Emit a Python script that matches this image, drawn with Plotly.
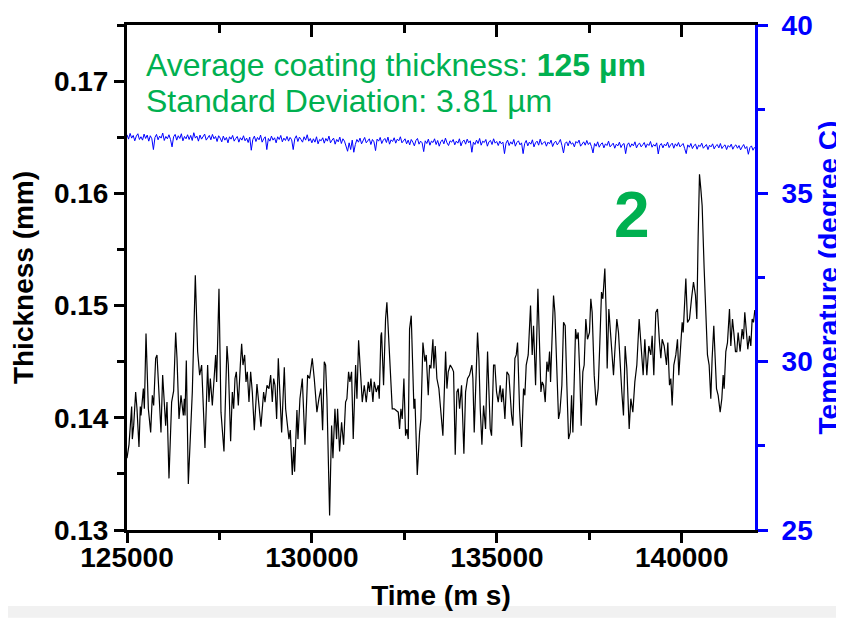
import plotly.graph_objects as go

# Thickness trace (time in ms, thickness in mm)
time_ms = [
    125000, 125054, 125126, 125144, 125180, 125234, 125270, 125324, 125360, 125378, 125442, 125469, 125514,
    125577, 125640, 125685, 125721, 125775, 125811, 125847, 125919, 125964, 126009, 126045, 126081, 126135,
    126207, 126261, 126316, 126352, 126406, 126460, 126523, 126550, 126568, 126604, 126658, 126712, 126766,
    126847, 126910, 126964, 127018, 127108, 127180, 127216, 127253, 127307, 127397,
    127424, 127487, 127541, 127622, 127703, 127739, 127802, 127848, 127884, 127920, 127956, 128010, 128064,
    128100, 128136, 128181, 128217, 128253, 128298, 128343, 128388, 128442, 128514, 128568, 128622, 128694,
    128731, 128785, 128839, 128884, 128929, 128965, 129001, 129046, 129091, 129181, 129253, 129289, 129343,
    129379, 129415, 129469, 129505, 129532, 129595, 129622, 129676, 129740, 129812,
    129883, 129937, 130009, 130063, 130135, 130189, 130243, 130289, 130334, 130370, 130406, 130478, 130532,
    130568, 130622, 130667, 130694, 130748, 130802, 130856, 130910, 130946, 130991, 131027, 131072, 131117,
    131181, 131217, 131262, 131307, 131361, 131415, 131469, 131523, 131559, 131595, 131649, 131685, 131739,
    131793, 131820, 131865, 131883, 131937, 131991, 132027, 132082, 132136, 132172, 132226,
    132334, 132370, 132406, 132442, 132487, 132532, 132568, 132604, 132640, 132685, 132721, 132758, 132785,
    132848, 132911, 132947, 133001, 133055, 133091, 133145, 133181, 133217, 133271, 133298, 133334, 133379,
    133433, 133487, 133541, 133614, 133650, 133686, 133740, 133794, 133830, 133875, 133920, 133956, 133992,
    134046, 134109, 134154, 134208, 134262, 134325, 134352, 134388, 134478, 134515, 134551, 134596, 134641,
    134695,
    134749, 134821, 134857, 134911, 134947, 134992, 135037, 135091, 135128, 135164, 135218, 135272, 135326,
    135362, 135398, 135434, 135488, 135524, 135560, 135614, 135668, 135722, 135758, 135794, 135848, 135911,
    135956, 135992, 136047, 136110, 136155, 136191, 136227, 136263, 136308, 136353, 136389, 136425, 136452,
    136497, 136533, 136569, 136614, 136668, 136704, 136758, 136803, 136848, 136893, 136939, 136984, 137020,
    137056, 137092, 137128,
    137163, 137199, 137244, 137280, 137325, 137361, 137406, 137451, 137505, 137541, 137577, 137632, 137686,
    137740, 137785, 137830, 137866, 137920, 137956, 137983, 138028, 138064, 138118, 138154, 138190, 138244,
    138289, 138343, 138379, 138424, 138469, 138515, 138578, 138623, 138677, 138731, 138785, 138848, 138911,
    138956, 139001, 139055, 139109, 139163, 139199, 139244, 139298, 139343, 139398, 139434, 139470, 139524,
    139587, 139623, 139668, 139704, 139740, 139785, 139839, 139884, 139920, 139965, 140011, 140038, 140074,
    140110, 140155, 140209, 140263, 140317, 140371, 140407, 140443, 140479, 140515, 140551, 140605, 140659,
    140695, 140740, 140785, 140821, 140866, 140903, 140939, 140984, 141038, 141083, 141119, 141146, 141191,
    141236, 141290, 141326, 141371, 141407, 141452, 141488, 141524, 141578, 141632, 141668, 141704, 141749,
    141785, 141830, 141867, 141903, 141939, 141975,
]

thickness_mm = [
    0.1364, 0.1376, 0.1410, 0.1381, 0.1393, 0.1423, 0.1408, 0.1374, 0.1410, 0.1402, 0.1426, 0.1408, 0.1475,
    0.1408, 0.1387, 0.1420, 0.1411, 0.1453, 0.1456, 0.1435, 0.1387, 0.1438, 0.1414, 0.1393, 0.1414, 0.1346,
    0.1414, 0.1424, 0.1476, 0.1453, 0.1399, 0.1420, 0.1402, 0.1417, 0.1402, 0.1451, 0.1341, 0.1381, 0.1423,
    0.1527, 0.1459, 0.1438, 0.1447, 0.1373, 0.1447, 0.1414, 0.1435, 0.1411, 0.1456,
    0.1432, 0.1515, 0.1405, 0.1370, 0.1464, 0.1447, 0.1379, 0.1423, 0.1408, 0.1435, 0.1441, 0.1411, 0.1447,
    0.1466, 0.1447, 0.1456, 0.1432, 0.1441, 0.1414, 0.1441, 0.1423, 0.1389, 0.1430, 0.1414, 0.1392, 0.1423,
    0.1414, 0.1429, 0.1426, 0.1438, 0.1414, 0.1435, 0.1429, 0.1399, 0.1453, 0.1387, 0.1445, 0.1408, 0.1390,
    0.1381, 0.1389, 0.1349, 0.1374, 0.1352, 0.1407, 0.1381, 0.1417, 0.1435, 0.1376,
    0.1438, 0.1435, 0.1453, 0.1435, 0.1405, 0.1417, 0.1426, 0.1389, 0.1450, 0.1447, 0.1417, 0.1313, 0.1393,
    0.1364, 0.1408, 0.1381, 0.1408, 0.1370, 0.1396, 0.1376, 0.1414, 0.1417, 0.1441, 0.1432, 0.1441, 0.1381,
    0.1447, 0.1417, 0.1469, 0.1444, 0.1414, 0.1429, 0.1414, 0.1432, 0.1423, 0.1435, 0.1414, 0.1432, 0.1423,
    0.1429, 0.1417, 0.1473, 0.1476, 0.1429, 0.1488, 0.1503, 0.1464, 0.1435, 0.1408, 0.1408,
    0.1405, 0.1390, 0.1408, 0.1399, 0.1435, 0.1384, 0.1390, 0.1381, 0.1479, 0.1491, 0.1456, 0.1408, 0.1417,
    0.1349, 0.1387, 0.1399, 0.1467, 0.1450, 0.1456, 0.1420, 0.1447, 0.1444, 0.1470, 0.1444, 0.1464, 0.1435,
    0.1426, 0.1405, 0.1384, 0.1459, 0.1426, 0.1441, 0.1447, 0.1444, 0.1441, 0.1367, 0.1423, 0.1426, 0.1408,
    0.1429, 0.1368, 0.1423, 0.1435, 0.1438, 0.1447, 0.1435, 0.1387, 0.1476, 0.1453, 0.1408, 0.1376, 0.1411,
    0.1390,
    0.1459, 0.1390, 0.1384, 0.1447, 0.1447, 0.1423, 0.1414, 0.1429, 0.1414, 0.1426, 0.1399, 0.1441, 0.1438,
    0.1414, 0.1402, 0.1393, 0.1453, 0.1456, 0.1467, 0.1408, 0.1374, 0.1426, 0.1420, 0.1447, 0.1456, 0.1500,
    0.1456, 0.1482, 0.1429, 0.1515, 0.1470, 0.1423, 0.1432, 0.1429, 0.1414, 0.1450, 0.1441, 0.1459, 0.1432,
    0.1485, 0.1509, 0.1494, 0.1447, 0.1399, 0.1405, 0.1429, 0.1485, 0.1482, 0.1429, 0.1381, 0.1387, 0.1420,
    0.1387, 0.1447, 0.1479,
    0.1470, 0.1476, 0.1438, 0.1393, 0.1441, 0.1447, 0.1488, 0.1470, 0.1476, 0.1506, 0.1494, 0.1438, 0.1411,
    0.1426, 0.1467, 0.1512, 0.1506, 0.1533, 0.1494, 0.1444, 0.1497, 0.1482, 0.1453, 0.1438, 0.1459, 0.1488,
    0.1476, 0.1438, 0.1423, 0.1402, 0.1464, 0.1444, 0.1390, 0.1417, 0.1405, 0.1432, 0.1447, 0.1488, 0.1453,
    0.1438, 0.1470, 0.1438, 0.1464, 0.1456, 0.1473, 0.1438, 0.1494, 0.1497, 0.1467, 0.1453, 0.1470, 0.1464,
    0.1447, 0.1467, 0.1429, 0.1435, 0.1411, 0.1447, 0.1456, 0.1470, 0.1438, 0.1464, 0.1485, 0.1476, 0.1509,
    0.1524, 0.1485, 0.1488, 0.1506, 0.1521, 0.1509, 0.1488, 0.1562, 0.1617, 0.1604, 0.1589, 0.1533, 0.1494,
    0.1456, 0.1447, 0.1417, 0.1453, 0.1482, 0.1453, 0.1426, 0.1420, 0.1405, 0.1417, 0.1438, 0.1426, 0.1459,
    0.1467, 0.1497, 0.1464, 0.1488, 0.1476, 0.1459, 0.1459, 0.1476, 0.1459, 0.1479, 0.1470, 0.1494, 0.1476,
    0.1461, 0.1473, 0.1464, 0.1488, 0.1485, 0.1496,
]

# Temperature trace (degree C), sampled every 42 ms from 125000 ms
temp_start = 125000
temp_step = 42
temperature = [
    36.74, 36.61, 36.78, 36.64, 36.72, 36.56, 36.70, 36.77, 36.60, 36.68, 36.58, 36.76, 36.63, 36.73, 36.55,
    36.71, 36.62, 36.30, 36.66, 36.75, 36.59, 36.70, 36.64, 36.79, 36.57, 36.69, 36.62, 36.74, 36.60, 36.38,
    36.68, 36.75, 36.58, 36.71, 36.63, 36.77, 36.56, 36.69, 36.62, 36.74, 36.60, 36.72, 36.57, 36.80, 36.64,
    36.70, 36.55, 36.73, 36.61, 36.68, 36.76, 36.58, 36.66, 36.72, 36.59, 36.75, 36.62, 36.69, 36.54, 36.71,
    36.64, 36.53, 36.70, 36.58, 36.66, 36.50, 36.68, 36.61, 36.72, 36.55, 36.63, 36.69, 36.52, 36.65, 36.58,
    36.71, 36.56, 36.64, 36.51, 36.67, 36.28, 36.60, 36.70, 36.54, 36.66, 36.59, 36.73, 36.52, 36.62, 36.68,
    36.30, 36.63, 36.55, 36.70, 36.58, 36.65, 36.50, 36.68, 36.60, 36.72, 36.53, 36.64, 36.57, 36.69, 36.55,
    36.66, 36.59, 36.30, 36.62, 36.71, 36.54, 36.67, 36.60, 36.52, 36.68, 36.58, 36.74, 36.55, 36.63, 36.50,
    36.62, 36.52, 36.68, 36.47, 36.60, 36.56, 36.65, 36.49, 36.63, 36.55, 36.70, 36.50, 36.58, 36.64, 36.46,
    36.60, 36.53, 36.67, 36.48, 36.62, 36.55, 36.40, 36.25, 36.50, 36.30, 36.58, 36.22, 36.45, 36.60, 36.52,
    36.64, 36.47, 36.59, 36.66, 36.50, 36.57, 36.62, 36.45, 36.60, 36.53, 36.27, 36.61, 36.55, 36.66, 36.48,
    36.58, 36.63, 36.51, 36.67, 36.46, 36.59, 36.54, 36.65, 36.49, 36.61, 36.56, 36.68, 36.50, 36.57, 36.62,
    36.47, 36.58, 36.44, 36.60, 36.52, 36.41, 36.57, 36.63, 36.46, 36.55, 36.50, 36.24, 36.56, 36.48, 36.61,
    36.43, 36.55, 36.51, 36.62, 36.45, 36.57, 36.40, 36.53, 36.59, 36.47, 36.64, 36.50, 36.42, 36.56, 36.52,
    36.60, 36.44, 36.55, 36.49, 36.62, 36.41, 36.54, 36.58, 36.46, 36.61, 36.50, 36.56, 36.22, 36.52, 36.45,
    36.58, 36.48, 36.63, 36.43, 36.55, 36.51, 36.60, 36.40, 36.53, 36.57, 36.45, 36.62, 36.49, 36.54, 36.42,
    36.55, 36.47, 36.52, 36.18, 36.49, 36.58, 36.42, 36.53, 36.46, 36.60, 36.40, 36.51, 36.56, 36.44, 36.50,
    36.18, 36.48, 36.57, 36.41, 36.52, 36.46, 36.59, 36.38, 36.50, 36.55, 36.43, 36.61, 36.45, 36.49, 36.54,
    36.40, 36.52, 36.47, 36.58, 36.39, 36.50, 36.55, 36.44, 36.51, 36.60, 36.42, 36.20, 36.48, 36.53, 36.41,
    36.56, 36.46, 36.50, 36.38, 36.54, 36.49, 36.58, 36.40, 36.47, 36.53, 36.43, 36.57, 36.45, 36.51, 36.39,
    36.20, 36.48, 36.40, 36.53, 36.37, 36.46, 36.50, 36.35, 36.47, 36.42, 36.55, 36.38, 36.44, 36.49, 36.34,
    36.46, 36.41, 36.52, 36.36, 36.45, 36.48, 36.18, 36.44, 36.50, 36.37, 36.47, 36.41, 36.53, 36.35, 36.45,
    36.49, 36.38, 36.44, 36.51, 36.36, 36.47, 36.42, 36.54, 36.37, 36.45, 36.40, 36.50, 36.17, 36.43, 36.48,
    36.35, 36.46, 36.41, 36.52, 36.36, 36.44, 36.49, 36.34, 36.47, 36.40, 36.51, 36.38, 36.43, 36.48, 36.33,
    36.18, 36.44, 36.37, 36.48, 36.33, 36.42, 36.46, 36.31, 36.43, 36.39, 36.49, 36.34, 36.41, 36.45, 36.30,
    36.43, 36.38, 36.47, 36.32, 36.41, 36.45, 36.35, 36.48, 36.33, 36.40, 36.44, 36.30, 36.42, 36.37, 36.46,
    36.31, 36.40, 36.44, 36.34, 36.42, 36.29, 36.38, 36.45, 36.33, 36.39, 36.16, 36.36, 36.41, 36.28, 36.37,
]
temp_time = [temp_start + temp_step * i for i in range(len(temperature))]

assert len(time_ms) == len(thickness_mm), (len(time_ms), len(thickness_mm))

x_range = [125000, 141980]
green = "#00b050"
blue = "#0000ff"
font_family = "Liberation Sans, Arial, sans-serif"
tick_font = dict(family=font_family, size=28, color="black", weight="bold")
title_font = dict(family=font_family, size=28, color="black", weight="bold")

fig = go.Figure()

fig.add_trace(
    go.Scatter(
        x=time_ms,
        y=thickness_mm,
        mode="lines",
        line=dict(color="black", width=1.2),
        showlegend=False,
    )
)
fig.add_trace(
    go.Scatter(
        x=temp_time,
        y=temperature,
        mode="lines",
        line=dict(color=blue, width=1),
        xaxis="x2",
        yaxis="y2",
        showlegend=False,
    )
)

# the page body adds an 8 px margin, so the figure is sized to fit inside the window
fig.update_layout(
    width=836,
    height=610,
    margin=dict(l=119, r=89, t=17, b=88),
    paper_bgcolor="white",
    plot_bgcolor="white",
    xaxis=dict(
        range=x_range,
        tickvals=[125000, 130000, 135000, 140000],
        ticktext=["125000", "130000", "135000", "140000"],
        ticks="outside",
        ticklen=10,
        tickwidth=2.5,
        tickcolor="black",
        minor=dict(dtick=2500, tick0=125000, ticks="outside", ticklen=7, tickwidth=2.5, tickcolor="black"),
        showline=True,
        linewidth=3,
        linecolor="black",
        showgrid=False,
        zeroline=False,
        automargin=False,
        ticklabelstandoff=-10,
        tickfont=tick_font,
        title=dict(text="Time (m s)", font=title_font, standoff=14),
    ),
    xaxis2=dict(
        range=x_range,
        overlaying="x",
        side="top",
        anchor="y2",
        tickvals=[125000, 130000, 135000, 140000],
        ticks="inside",
        ticklen=12,
        tickwidth=2.5,
        tickcolor="black",
        minor=dict(dtick=2500, tick0=125000, ticks="inside", ticklen=8, tickwidth=2.5, tickcolor="black"),
        showticklabels=False,
        showline=True,
        linewidth=3,
        linecolor="black",
        showgrid=False,
        zeroline=False,
        automargin=False,
    ),
    yaxis=dict(
        range=[0.13, 0.175],
        tickvals=[0.13, 0.14, 0.15, 0.16, 0.17],
        ticktext=["0.13", "0.14", "0.15", "0.16", "0.17"],
        ticks="outside",
        ticklen=10,
        tickwidth=2.5,
        tickcolor="black",
        minor=dict(dtick=0.005, tick0=0.13, ticks="outside", ticklen=7, tickwidth=2.5, tickcolor="black"),
        showline=True,
        linewidth=3,
        linecolor="black",
        showgrid=False,
        zeroline=False,
        automargin=False,
        tickfont=tick_font,
        title=dict(text="Thickness (mm)", font=title_font, standoff=22),
    ),
    yaxis2=dict(
        range=[25, 40],
        overlaying="y",
        side="right",
        anchor="x2",
        tickvals=[25, 30, 35, 40],
        ticks="outside",
        ticklen=10,
        tickwidth=2.5,
        tickcolor=blue,
        minor=dict(dtick=2.5, tick0=25, ticks="outside", ticklen=7, tickwidth=2.5, tickcolor=blue),
        showline=True,
        linewidth=3,
        linecolor=blue,
        showgrid=False,
        zeroline=False,
        automargin=False,
        ticklabelstandoff=8,
        tickfont=dict(family=font_family, size=28, color=blue, weight="bold"),
        title=dict(text="Temperature (degree C)", font=dict(family=font_family, size=28, color=blue, weight="bold"),
                   standoff=2),
    ),
)

# light grey strip along the bottom edge of the page
fig.add_shape(
    type="rect", xref="paper", yref="paper", x0=-0.19, x1=1.142, y0=-0.174, y1=-0.1505,
    fillcolor="#f1f1f1", line=dict(width=0), layer="below",
)

fig.add_annotation(
    xref="paper", yref="paper", x=0.027, y=0.921, xanchor="left", yanchor="middle",
    text="Average coating thickness: <b>125 µm</b>", showarrow=False,
    font=dict(family=font_family, size=32, color=green),
)
fig.add_annotation(
    xref="paper", yref="paper", x=0.027, y=0.850, xanchor="left", yanchor="middle",
    text="Standard Deviation: 3.81 µm", showarrow=False,
    font=dict(family=font_family, size=32, color=green),
)
fig.add_annotation(
    xref="paper", yref="paper", x=0.804, y=0.624, xanchor="center", yanchor="middle",
    text="<b>2</b>", showarrow=False,
    font=dict(family=font_family, size=64, color=green),
)

fig.write_html("out.html")
